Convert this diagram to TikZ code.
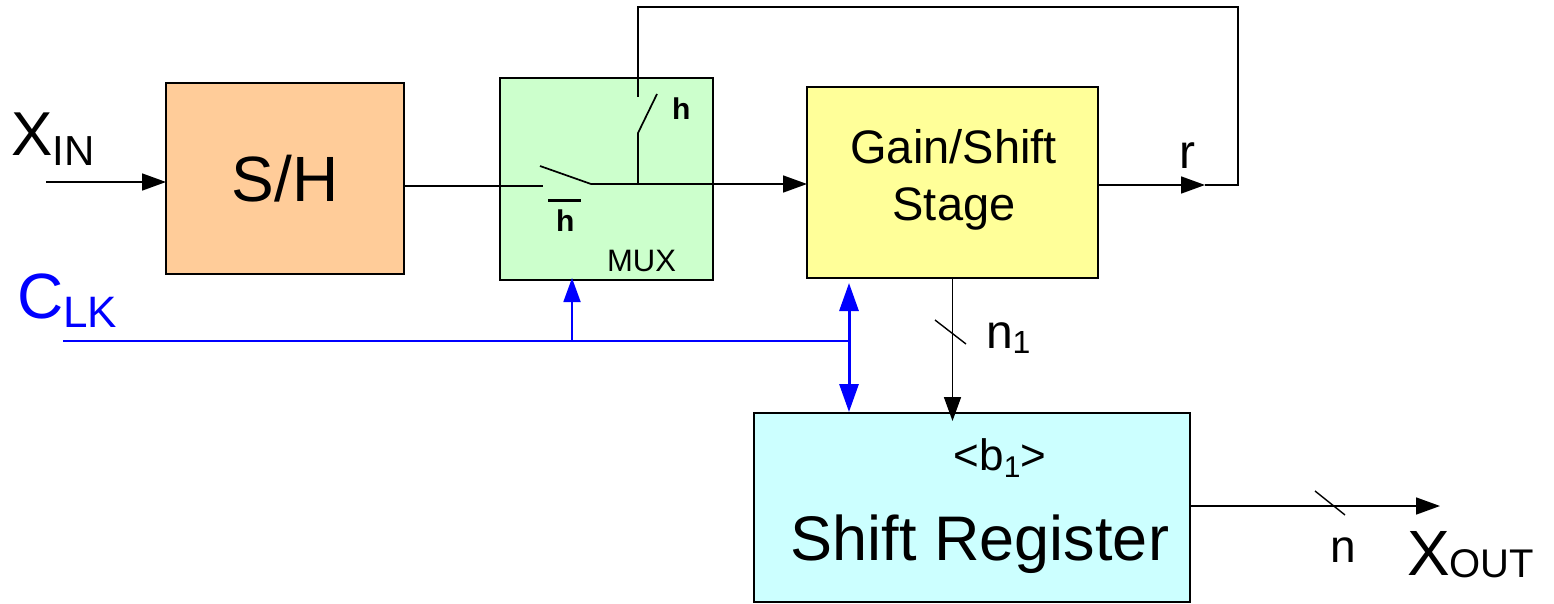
\documentclass[tikz,border=0pt]{standalone}
\usepackage{fontspec}
\setmainfont{Liberation Sans}
\usetikzlibrary{arrows.meta}
\definecolor{shfill}{HTML}{FFCC99}
\definecolor{muxfill}{HTML}{CCFFCC}
\definecolor{gainfill}{HTML}{FFFF99}
\definecolor{srfill}{HTML}{CCFFFF}
\definecolor{clkblue}{HTML}{0000FF}
\newcommand\setfs[1]{\fontsize{#1}{#1}\selectfont}
\begin{document}
\begin{tikzpicture}[x=1pt,y=-1pt,
  box/.style={draw=black, line width=1.8pt, inner sep=0pt, outer sep=0pt},
  wire/.style={draw=black, line width=1.7pt},
  tip/.style={-{Triangle[length=24pt,width=17pt]}},
  clkwire/.style={draw=clkblue, line width=1.8pt},
  bus/.style={draw=black, line width=1.4pt},
  lbl/.style={inner sep=0pt, outer sep=0pt, anchor=base},
]
\useasboundingbox (0,0) rectangle (1554,603);

% blocks
\node[box, fill=shfill, minimum width=238pt, minimum height=191pt] (sh) at (285,178.5) {\setfs{64}S/H};
\node[box, fill=muxfill, minimum width=213pt, minimum height=202pt] (mux) at (606.5,179) {};
\node[box, fill=gainfill, minimum width=291pt, minimum height=191pt] (gain) at (952.5,182.5) {};
\node[box, fill=srfill, minimum width=436pt, minimum height=189pt] (sr) at (972,507.5) {};

% texts
\node[lbl] (g1) at (953.5,163) {\setfs{47}Gain/Shift};
\node[lbl] (g2) at (954,220) {\setfs{47}Stage};
\node[lbl] (b1) at (1000,470) {\setfs{44}<b\raisebox{-7pt}{\setfs{30}1}>};
\node[lbl] (srt) at (980,560) {\setfs{63}Shift Register};
\node[lbl] (muxt) at (641.5,271) {\setfs{31}MUX};
\node[lbl, anchor=base west] (hlbl) at (672,119) {\setfs{30}\bfseries h};
\node[lbl, anchor=base west] (hbar) at (556,231) {\setfs{30}\bfseries h};
\draw[line width=3pt] (548,200) -- (581,200);
\node[lbl, anchor=base west] (xin) at (11,155) {\setfs{62}X\raisebox{-10pt}{\setfs{42}IN}};
\node[lbl, anchor=base west, text=clkblue] (clk) at (17,318) {\setfs{64}C\raisebox{-9pt}{\setfs{44}LK}};
\node[lbl] (rl) at (1187,168) {\setfs{48}r};
\node[lbl, anchor=base west] (n1l) at (986,348) {\setfs{48}n\raisebox{-5pt}{\setfs{32}1}};
\node[lbl] (nl) at (1343,562) {\setfs{46}n};
\node[lbl, anchor=base west] (xout) at (1407,575) {\setfs{64}X\raisebox{-2pt}{\setfs{40}OUT}};

% coordinates
\coordinate (swA) at (543,186);
\coordinate (bladeS) at (540,166);
\coordinate (pivot) at (591,184);
\coordinate (jn) at (638,184);
\coordinate (up1) at (638,133);
\coordinate (up2) at (657,94);
\coordinate (upc) at (638,97);
\coordinate (tl) at (638,7);
\coordinate (tr) at (1238,7);
\coordinate (br) at (1238,185);
\coordinate (rtip) at (1205,185);
\coordinate (xinS) at (46,182);
\coordinate (clkL) at (63,341);
\coordinate (clkM) at (572,341);
\coordinate (clkR) at (849,341);
\coordinate (outE) at (1440,506);

% signal wires
\draw[wire,tip] (xinS) -- (xinS -| sh.west);
\draw[wire] (sh.east |- swA) -- (swA);
\draw[wire,tip] (bladeS) -- (pivot) -- (pivot -| gain.west);
\draw[wire] (jn) -- (up1) -- (up2);
\draw[wire,tip] (gain.east |- br) -- (rtip);
\draw[wire] (rtip) -- (br) -- (tr) -- (tl) -- (upc);
\draw[wire,tip,shorten >=-8pt] (gain.south) -- (gain.south |- sr.north);
\draw[wire,tip] (sr.east |- outE) -- (outE);
\draw[bus] (935,320) -- (966,344);
\draw[bus] (1315,491) -- (1345,515);

% clock
\draw[clkwire] (clkL) -- (clkR);
\draw[clkwire,tip,shorten >=-2pt] (clkM) -- (clkM |- mux.south);
\draw[draw=clkblue, line width=3pt, {Triangle[length=28pt,width=19pt]}-{Triangle[length=28pt,width=19pt]}, shorten <=5pt, shorten >=1pt] (clkR |- gain.south) -- (clkR |- sr.north);
\end{tikzpicture}
\end{document}
